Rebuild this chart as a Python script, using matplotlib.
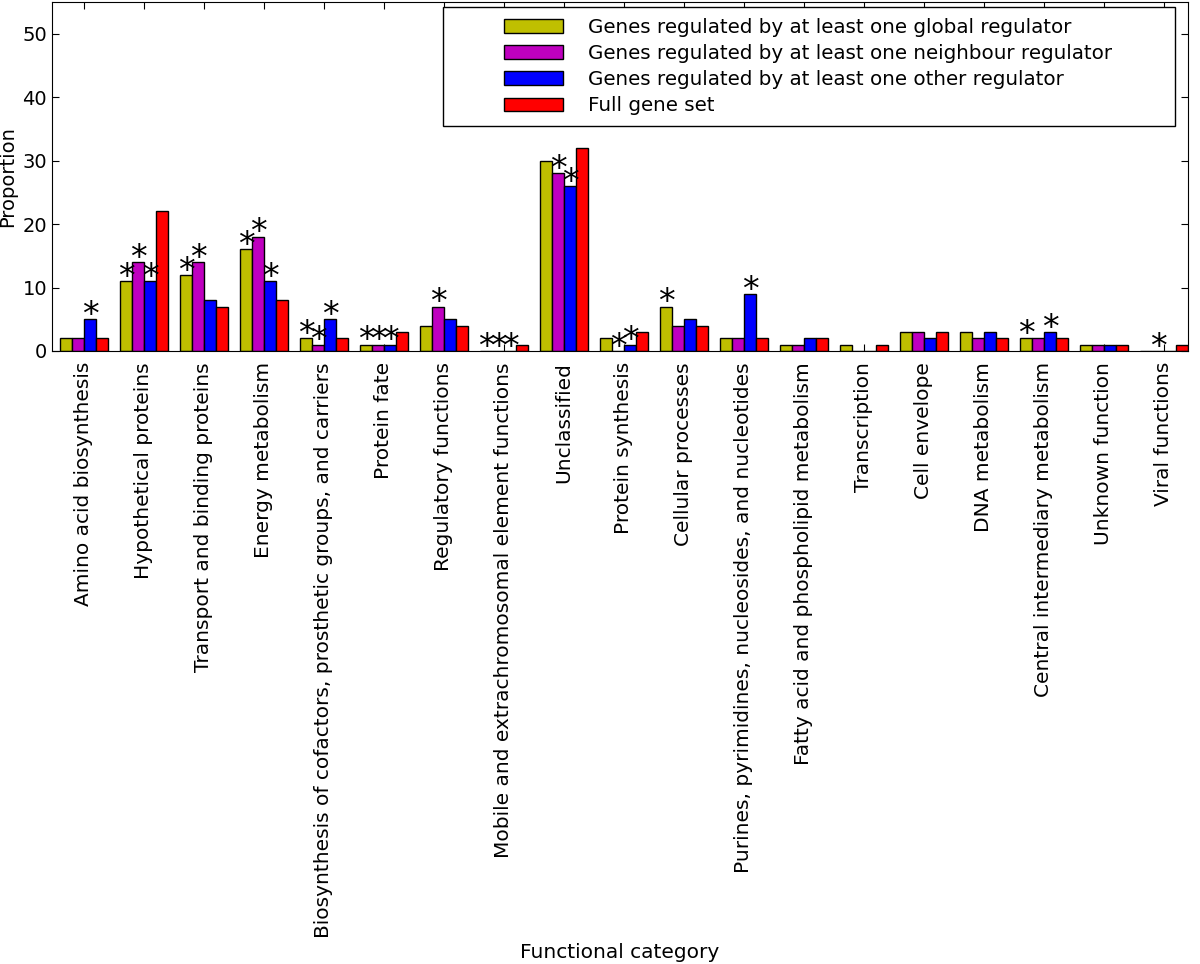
import numpy as np
import matplotlib
matplotlib.use("Agg")
import matplotlib.pyplot as plt
from matplotlib.patches import Rectangle
from matplotlib.container import BarContainer
from matplotlib.legend_handler import HandlerPatch

categories = [
    "Amino acid biosynthesis",
    "Hypothetical proteins",
    "Transport and binding proteins",
    "Energy metabolism",
    "Biosynthesis of cofactors, prosthetic groups, and carriers",
    "Protein fate",
    "Regulatory functions",
    "Mobile and extrachromosomal element functions",
    "Unclassified",
    "Protein synthesis",
    "Cellular processes",
    "Purines, pyrimidines, nucleosides, and nucleotides",
    "Fatty acid and phospholipid metabolism",
    "Transcription",
    "Cell envelope",
    "DNA metabolism",
    "Central intermediary metabolism",
    "Unknown function",
    "Viral functions",
]

global_reg = [2, 11, 12, 16, 2, 1, 4, 0, 30, 2, 7, 2, 1, 1, 3, 3, 2, 1, 0]
neighbour_reg = [2, 14, 14, 18, 1, 1, 7, 0, 28, 0, 4, 2, 1, 0, 3, 2, 2, 1, 0]
other_reg = [5, 11, 8, 11, 5, 1, 5, 0, 26, 1, 5, 9, 2, 0, 2, 3, 3, 1, 0]
full_set = [2, 22, 7, 8, 2, 3, 4, 1, 32, 3, 4, 2, 2, 1, 3, 2, 2, 1, 1]

# category indices with a significance star, per series
stars_global = [1, 2, 3, 4, 5, 7, 10, 16]
stars_neighbour = [1, 2, 3, 4, 5, 6, 7, 8, 9, 18]
stars_other = [0, 1, 3, 4, 5, 7, 8, 9, 11, 16]
stars_full = []

labels = [
    "Genes regulated by at least one global regulator",
    "Genes regulated by at least one neighbour regulator",
    "Genes regulated by at least one other regulator",
    "Full gene set",
]
colors = [(0.75, 0.75, 0), (0.75, 0, 0.75), (0, 0, 1), (1, 0, 0)]

series = [global_reg, neighbour_reg, other_reg, full_set]
stars = [stars_global, stars_neighbour, stars_other, stars_full]

fig = plt.figure(figsize=(12, 9.64), dpi=100)
ax = fig.add_axes([52 / 1200, 1 - 351 / 964, 1136 / 1200, 349 / 964])

x = np.arange(len(categories))
w = 0.2
for k, vals in enumerate(series):
    ax.bar(x + k * w, vals, w, align="edge", color=colors[k],
           edgecolor="black", linewidth=1, label=labels[k])
    for i in stars[k]:
        ax.text(x[i] + k * w + w / 2, vals[i] + 0.6, "*", ha="center",
                va="center", fontsize=24)

ax.set_xlim(-0.133, len(categories) - 0.2)
ax.set_ylim(0, 55)
ax.set_xticks(x + 2 * w)
ax.set_xticklabels(categories, rotation=90, fontsize=14.5)
ax.set_yticks(range(0, 51, 10))
ax.tick_params(axis="y", labelsize=14)
ax.tick_params(direction="in", top=True, right=True, length=5)
ax.tick_params(axis="x", pad=8)
ax.set_xlabel("Functional category", fontsize=14.5)
ax.set_ylabel("Proportion", fontsize=14)


# legend swatches sit at the right end of a wide handle box (indented look)
# units here are points
def indented_patch(legend, orig_handle, xdescent, ydescent, width, height, fontsize):
    return Rectangle((-xdescent + width - 44, -ydescent), 42.5, height)


def copy_style(handle, orig):
    handle.update_from(orig.patches[0])


leg = ax.legend(loc="upper left", mode="expand",
                bbox_to_anchor=((443 - 52) / 1136, (351 - 7) / 349, 732 / 1136, 0),
                borderaxespad=0, fontsize=14.35, fancybox=False, framealpha=1,
                handlelength=5.6, handletextpad=1.15, labelspacing=0.36,
                borderpad=0.55,
                handler_map={BarContainer: HandlerPatch(patch_func=indented_patch,
                                                        update_func=copy_style)})
leg.get_frame().set_edgecolor("black")
leg.get_frame().set_linewidth(1)

fig.savefig("out.png", dpi=100)
